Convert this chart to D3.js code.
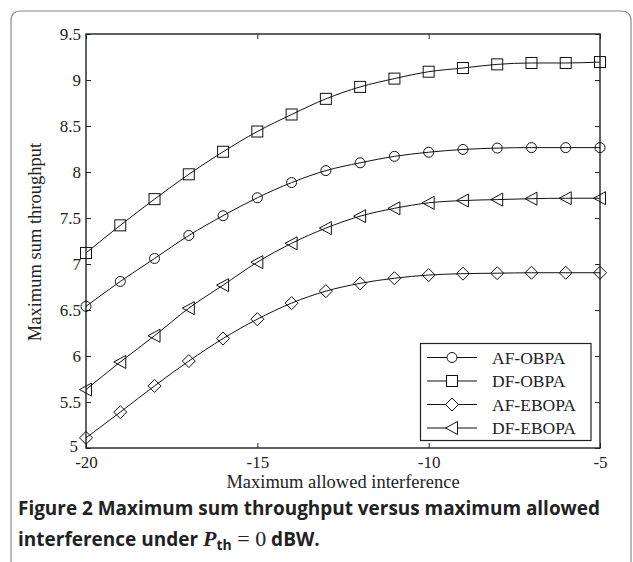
<!DOCTYPE html>
<html><head><meta charset="utf-8">
<script src="https://cdn.jsdelivr.net/npm/d3@7"></script>
<style>
html,body{margin:0;padding:0;background:#fff;}
svg{display:block;}
</style></head>
<body><div id="chart"></div>
<script>
const xValues = [-20,-19,-18,-17,-16,-15,-14,-13,-12,-11,-10,-9,-8,-7,-6,-5];
const afObpa  = [6.54,6.81,7.06,7.31,7.525,7.72,7.885,8.015,8.10,8.17,8.215,8.245,8.26,8.265,8.265,8.265];
const dfObpa  = [7.12,7.42,7.705,7.975,8.22,8.44,8.625,8.795,8.925,9.015,9.09,9.13,9.17,9.185,9.185,9.195];
const afEbopa = [5.11,5.39,5.675,5.945,6.19,6.40,6.575,6.705,6.79,6.845,6.88,6.895,6.90,6.905,6.905,6.905];
const dfEbopa = [5.635,5.935,6.22,6.52,6.77,7.02,7.225,7.39,7.52,7.605,7.665,7.69,7.70,7.71,7.715,7.715];
const seriesNames = ["AF-OBPA","DF-OBPA","AF-EBOPA","DF-EBOPA"];
const seriesMarkers = ["circle","square","diamond","triangleLeft"];
const xTicks = [-20,-15,-10,-5];
const yTicks = [5,5.5,6,6.5,7,7.5,8,8.5,9,9.5];
const xLabel = "Maximum allowed interference";
const yLabel = "Maximum sum throughput";

const W = 633, H = 562;
const svg = d3.select("#chart").append("svg").attr("width", W).attr("height", H);
const x = d3.scaleLinear().domain([-20,-5]).range([86,600]);
const y = d3.scaleLinear().domain([5,9.5]).range([448,34]);
const serif = "'Liberation Serif','Times New Roman',serif";

// outer frame
svg.append("path")
  .attr("d", "M11,562 V21 Q11,11 21,11 H621 Q631,11 631,21 V562")
  .attr("fill","none").attr("stroke","#8a8a8a").attr("stroke-width",1.2);

const g = svg.append("g");
g.append("rect").attr("x",86).attr("y",34).attr("width",514).attr("height",414)
  .attr("fill","none").attr("stroke","#222").attr("stroke-width",1.4);

const fmt = d => String(d).replace("-", "-");
const axB = g.append("g").attr("transform","translate(0,448)")
  .call(d3.axisBottom(x).tickValues(xTicks).tickSize(-5).tickFormat(fmt));
const axT = g.append("g").attr("transform","translate(0,34)")
  .call(d3.axisTop(x).tickValues(xTicks).tickSize(-5).tickFormat(""));
const axL = g.append("g").attr("transform","translate(86,0)")
  .call(d3.axisLeft(y).tickValues(yTicks).tickSize(-5).tickPadding(5).tickFormat(fmt));
const axR = g.append("g").attr("transform","translate(600,0)")
  .call(d3.axisRight(y).tickValues(yTicks).tickSize(-5).tickFormat(""));
[axB,axT,axL,axR].forEach(a=>{
  a.select(".domain").remove();
  a.selectAll(".tick line").attr("stroke","#222").attr("stroke-width",1);
  a.selectAll("text").attr("font-family",serif).attr("font-size",17).attr("fill","#222");
});
axB.selectAll("text").attr("y",0).attr("dy",20);
axL.selectAll(".tick").filter(d=>d===5).select("text").attr("x",-8).attr("dy","0.2em");

// axis titles
svg.append("text").attr("x",343).attr("y",488).attr("text-anchor","middle")
  .attr("font-family",serif).attr("font-size",18.5).attr("fill","#222").text(xLabel);
svg.append("text").attr("transform","translate(41,242) rotate(-90)").attr("text-anchor","middle")
  .attr("font-family",serif).attr("font-size",18.5).attr("fill","#222").text(yLabel);

// markers
function marker(sel, type){
  if(type==="circle") sel.append("circle").attr("r",5);
  else if(type==="square") sel.append("rect").attr("x",-5.5).attr("y",-5.5).attr("width",11).attr("height",11);
  else if(type==="diamond") sel.append("path").attr("d","M0,-6.5 L6.5,0 L0,6.5 L-6.5,0 Z");
  else if(type==="triangleLeft") sel.append("path").attr("d","M-6.5,0 L5.5,-6.5 L5.5,6.5 Z");
}
const allSeries = [afObpa, dfObpa, afEbopa, dfEbopa];
const line = d3.line().x((d,i)=>x(xValues[i])).y(d=>y(d)).curve(d3.curveMonotoneX);
allSeries.forEach((vals, k)=>{
  g.append("path").attr("d", line(vals)).attr("fill","none").attr("stroke","#111").attr("stroke-width",1);
  const m = g.append("g").selectAll("g").data(vals).join("g")
    .attr("transform",(d,i)=>`translate(${x(xValues[i])},${y(d)})`)
    .attr("fill","none").attr("stroke","#111").attr("stroke-width",1);
  m.each(function(){ marker(d3.select(this), seriesMarkers[k]); });
});

// legend
const lg = svg.append("g");
lg.append("rect").attr("x",420.5).attr("y",343.5).attr("width",170.5).attr("height",97)
  .attr("fill","#fff").attr("stroke","#222").attr("stroke-width",1.2);
seriesNames.forEach((name,k)=>{
  const cy = 357.5 + k*23.5;
  lg.append("line").attr("x1",427).attr("x2",477).attr("y1",cy).attr("y2",cy).attr("stroke","#111");
  const mg = lg.append("g").attr("transform",`translate(452,${cy})`).attr("fill","#fff").attr("stroke","#111");
  marker(mg, seriesMarkers[k]);
  lg.append("text").attr("x",492).attr("y",cy).attr("dy","0.35em").attr("font-family",serif)
    .attr("font-size",17.5).attr("fill","#222").text(name);
});

// caption
const sans = "'Open Sans','Noto Sans',sans-serif";
svg.append("text").attr("x",18).attr("y",515).attr("font-family",sans).attr("font-weight","bold")
  .attr("font-size",19).attr("fill","#222").attr("textLength",582).attr("lengthAdjust","spacingAndGlyphs")
  .text("Figure 2 Maximum sum throughput versus maximum allowed");
const c2 = svg.append("text").attr("x",18).attr("y",546).attr("font-family",sans).attr("font-weight","bold")
  .attr("font-size",19).attr("fill","#222");
c2.append("tspan").text("interference under ");
c2.append("tspan").attr("font-family",serif).attr("font-style","italic").attr("font-size",22).text("P");
c2.append("tspan").attr("font-size",14).attr("dy",4).text("th");
c2.append("tspan").attr("dy",-4).attr("font-family",serif).attr("font-weight","normal").attr("font-size",22).text(" = 0");
c2.append("tspan").text(" dBW.");
</script></body></html>
